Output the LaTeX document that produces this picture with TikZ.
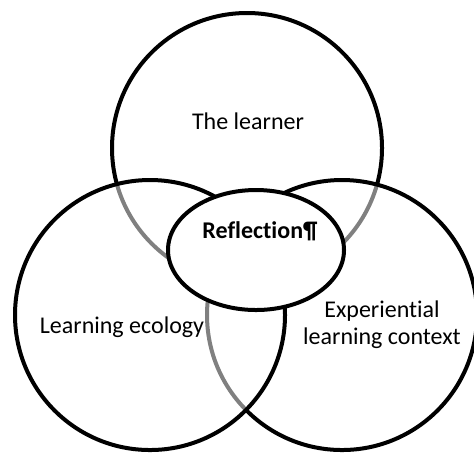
\documentclass[tikz,border=0pt]{standalone}
\usepackage{fontspec}
\setmainfont{Carlito}[Ligatures=CommonOff]
\usetikzlibrary{shapes.geometric}
\tikzstyle{ambito} = [circle, minimum size=135pt, inner sep=0pt, line width=2pt, draw=black, fill=white, fill opacity=0.5]
\tikzstyle{riflessione} = [ellipse, minimum width=88pt, minimum height=60pt, inner sep=0pt, line width=2pt, draw=black, fill=white]
\tikzstyle{testo} = [font=\fontsize{12}{13.5}\selectfont, align=center, inner sep=0pt]

\begin{document}
\begin{tikzpicture}[x=0.5pt,y=-0.5pt]
\useasboundingbox (0,0) rectangle (474,452);
\node (learner) at (247,148) [ambito] {};
\node (context) at (342,315) [ambito] {};
\node (ecology) at (150,315) [ambito] {};
\node (reflection) at (256,250) [riflessione] {};
\node (tlearner) at (248,121) [testo] {The learner};
\node (treflection) at (260,231) [testo, font=\fontsize{12}{13.5}\selectfont\bfseries] {Reflection¶};
\node (tecology) at (122,327) [testo] {Learning ecology};
\node (tcontext) at (382,325) [testo] {Experiential\\learning context};
\end{tikzpicture}
\end{document}
